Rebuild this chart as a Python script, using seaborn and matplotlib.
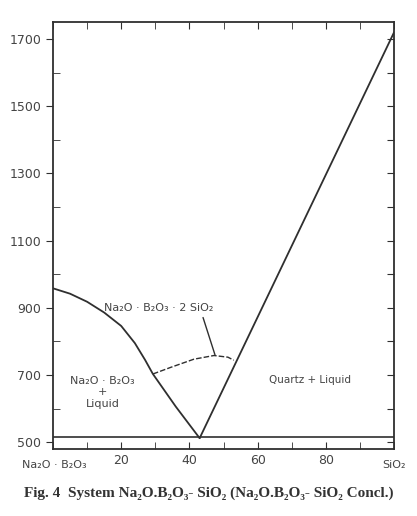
import numpy as np
import seaborn as sns
from matplotlib import pyplot as plt
from matplotlib.ticker import MultipleLocator

# liquidus of Na2O.B2O3 field (wt% SiO2, deg C)
left_x = [0, 5, 10, 15, 20, 24, 27, 29.3, 36, 43]
left_t = [958, 942, 918, 886, 846, 795, 745, 703, 606, 512]
# quartz liquidus
right_x = [43, 100]
right_t = [512, 1720]
# Na2O.B2O3.2SiO2 liquidus (dashed)
mid_x = [29.3, 34.6, 41.3, 47.2, 51.3, 53]
mid_t = [703, 723, 747, 758, 753, 744]
# solidus
solidus_t = 515
pointer_x = [44, 47.5]
pointer_t = [871, 760]

line_col = "#2f2f2f"

sns.set_style("ticks")
plt.rcParams['font.family'] = ['DejaVu Sans']

fig = plt.figure(figsize=(4.17, 5.16), dpi=100)
ax = fig.add_axes([0.127, 0.130, 0.818, 0.827])

sns.lineplot(x=left_x, y=left_t, ax=ax, color=line_col, lw=1.3, sort=False, estimator=None)
sns.lineplot(x=right_x, y=right_t, ax=ax, color=line_col, lw=1.3, sort=False, estimator=None)
sns.lineplot(x=mid_x, y=mid_t, ax=ax, color=line_col, lw=1.0, sort=False, estimator=None,
             linestyle=(0, (4, 1.5)))
sns.lineplot(x=pointer_x, y=pointer_t, ax=ax, color=line_col, lw=1.0, sort=False, estimator=None)
ax.axhline(solidus_t, color=line_col, lw=1.2)

ax.set_xlim(0, 100)
ax.set_ylim(480, 1750)
for s in ax.spines.values():
    s.set_color(line_col)
    s.set_linewidth(1.3)

ax.set_xticks([20, 40, 60, 80])
ax.xaxis.set_minor_locator(MultipleLocator(10))
ax.tick_params(axis='x', which='both', direction='in', top=True, bottom=True,
               length=5, color=line_col, labelsize=9, labelcolor="#444444")
ax.set_yticks([500, 700, 900, 1100, 1300, 1500, 1700])
ax.yaxis.set_minor_locator(MultipleLocator(100))
ax.tick_params(axis='y', which='major', direction='out', left=True, right=False,
               length=5, color=line_col, labelsize=9, labelcolor="#444444")
ax.tick_params(axis='y', which='minor', direction='in', left=True, right=False,
               length=5, color=line_col)
ax.set_xlabel("")
ax.set_ylabel("")

right = ax.secondary_yaxis('right')
right.set_yticks(np.arange(500, 1800, 100))
right.tick_params(direction='in', length=5, color=line_col, labelright=False)
right.spines['right'].set_visible(False)

ax.text(0.5, 448, "Na₂O · B₂O₃", ha='center', va='top', fontsize=8, color="#444444")
ax.text(100, 448, "SiO₂", ha='center', va='top', fontsize=8, color="#444444")

ax.text(14.5, 648, "Na₂O · B₂O₃\n+\nLiquid", ha='center', va='center',
        fontsize=8, color="#444444", linespacing=1.15)
ax.text(75.4, 686, "Quartz + Liquid", ha='center', va='center', fontsize=7.5, color="#444444")
ax.text(31, 900, "Na₂O · B₂O₃ · 2 SiO₂", ha='center', va='center', fontsize=8, color="#444444")

fig.text(0.5, 0.045, "Fig. 4  System Na₂O.B₂O₃- SiO₂ (Na₂O.B₂O₃- SiO₂ Concl.)",
         ha='center', va='center', fontsize=11, fontweight='bold',
         family=['Liberation Serif', 'DejaVu Serif'], color="#333333")

fig.savefig("out.png", dpi=100)
